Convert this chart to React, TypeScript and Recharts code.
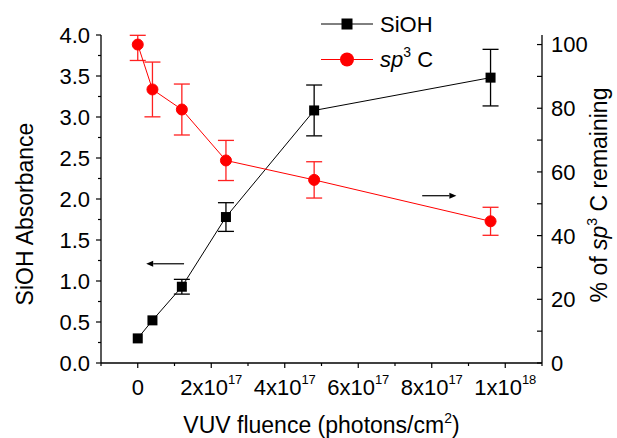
import React from 'react';
import { LineChart, Line, XAxis, YAxis, ErrorBar, ReferenceLine } from 'recharts';

// ---- data (fluence in units of 1e17 photons/cm^2) ----
const fluence = [0, 0.4, 1.2, 2.4, 4.8, 9.6];
const siohAbs = [0.3, 0.52, 0.93, 1.78, 3.08, 3.48];
const siohErr = [0, 0, 0.09, 0.175, 0.31, 0.345];
const sp3Pct = [100, 85.9, 79.6, 63.6, 57.5, 44.5];
const sp3ErrLow = [5, 8.6, 8.0, 6.3, 5.7, 4.4];
const sp3ErrHigh = [2.9, 8.6, 8.0, 6.3, 5.7, 4.4];

// ---- ticks ----
const xTicks = [-1, 0, 1, 2, 3, 4, 5, 6, 7, 8, 9, 10, 11];
const xMajorValues = [0, 2, 4, 6, 8, 10];
const xMajorMantissa = ['0', '2x10', '4x10', '6x10', '8x10', '1x10'];
const xMajorExp = ['', '17', '17', '17', '17', '18'];
const leftTicks = [0, 0.25, 0.5, 0.75, 1, 1.25, 1.5, 1.75, 2, 2.25, 2.5, 2.75, 3, 3.25, 3.5, 3.75, 4];
const leftMajor = [0, 0.5, 1, 1.5, 2, 2.5, 3, 3.5, 4];
const rightTicks = [0, 10, 20, 30, 40, 50, 60, 70, 80, 90, 100];
const rightMajor = [0, 20, 40, 60, 80, 100];

// ---- annotation arrows (start -> head), in data coords of left axis ----
const leftArrow = [{ x: 1.26, y: 1.21 }, { x: 0.23, y: 1.21 }];
const rightArrow = [{ x: 7.74, y: 2.04 }, { x: 8.67, y: 2.04 }];

const data = fluence.map((x, i) => ({
  x,
  sioh: siohAbs[i],
  siohErr: siohErr[i],
  sp3: sp3Pct[i],
  sp3Err: [sp3ErrLow[i], sp3ErrHigh[i]],
}));

const FONT = '"Liberation Sans", Arial, sans-serif';

const XTick = (props: any) => {
  const { x, y, payload } = props;
  const v = payload.value;
  const idx = xMajorValues.indexOf(v);
  const major = idx >= 0;
  return (
    <g>
      <line x1={x} x2={x} y1={y} y2={y + (major ? 5 : 3)} stroke="#000" strokeWidth={1.2} />
      {major && (
        <text x={x} y={y + 32} textAnchor="middle" fontFamily={FONT} fontSize={22} fill="#000">
          {xMajorMantissa[idx]}
          {xMajorExp[idx] && (
            <tspan dy={-11} fontSize={13}>
              {xMajorExp[idx]}
            </tspan>
          )}
        </text>
      )}
    </g>
  );
};

const LeftTick = (props: any) => {
  const { x, y, payload } = props;
  const v = payload.value;
  const axisX = x + 11;
  const major = leftMajor.includes(v);
  return (
    <g>
      <line x1={axisX} x2={axisX - (major ? 5 : 3)} y1={y} y2={y} stroke="#000" strokeWidth={1.2} />
      {major && (
        <text x={x} y={y} dy="0.36em" textAnchor="end" fontFamily={FONT} fontSize={22} fill="#000">
          {v.toFixed(1)}
        </text>
      )}
    </g>
  );
};

const RightTick = (props: any) => {
  const { x, y, payload } = props;
  const v = payload.value;
  const axisX = x;
  const major = rightMajor.includes(v);
  return (
    <g>
      <line x1={axisX} x2={axisX - 5} y1={y} y2={y} stroke="#000" strokeWidth={1.2} />
      {major && (
        <text x={axisX + 9} y={y} dy="0.36em" textAnchor="start" fontFamily={FONT} fontSize={22} fill="#000">
          {String(v)}
        </text>
      )}
    </g>
  );
};

const ArrowShape = (props: any) => {
  const { x1, y1, x2, y2 } = props;
  const dir = x2 > x1 ? 1 : -1;
  const hx = x2;
  const hl = 7;
  const hw = 3;
  return (
    <g>
      <line x1={x1} y1={y1} x2={x2 - dir * hl} y2={y2} stroke="#000" strokeWidth={1.2} />
      <polygon points={`${hx},${y2} ${hx - dir * hl},${y2 - hw} ${hx - dir * hl},${y2 + hw}`} fill="#000" />
    </g>
  );
};

const SquareDot = (props: any) => {
  const { cx, cy, index } = props;
  if (cx == null || cy == null) return <g key={`sq-${index}`} />;
  return <rect key={`sq-${index}`} x={cx - 5} y={cy - 5} width={10} height={10} fill="#000" />;
};

const LeftTitle = (props: any) => {
  const { viewBox } = props;
  const cx = 33;
  const cy = viewBox.y + viewBox.height / 2 + 15;
  return (
    <text x={cx} y={cy} transform={`rotate(-90, ${cx}, ${cy})`} textAnchor="middle" fontFamily={FONT} fontSize={23} fill="#000">
      SiOH Absorbance
    </text>
  );
};

const RightTitle = (props: any) => {
  const { viewBox } = props;
  const cx = viewBox.x + 65;
  const cy = viewBox.y + viewBox.height / 2 - 4;
  return (
    <text x={cx} y={cy} transform={`rotate(-90, ${cx}, ${cy})`} textAnchor="middle" fontFamily={FONT} fontSize={23} fill="#000">
      % of <tspan fontStyle="italic">sp</tspan>
      <tspan dy={-10} fontSize={14}>3</tspan>
      <tspan dy={10}> C remaining</tspan>
    </text>
  );
};

const XTitle = (props: any) => {
  const { viewBox } = props;
  const cx = viewBox.x + viewBox.width / 2;
  const cy = 433;
  return (
    <text x={cx} y={cy} textAnchor="middle" fontFamily={FONT} fontSize={23} fill="#000">
      VUV fluence (photons/cm<tspan dy={-10} fontSize={14}>2</tspan>
      <tspan dy={10}>)</tspan>
    </text>
  );
};

const LegendOverlay = () => (
  <svg width={617} height={438} style={{ position: 'absolute', left: 0, top: 0, pointerEvents: 'none' }}>
    <line x1={321} x2={373} y1={24} y2={24} stroke="#000" strokeWidth={1} />
    <rect x={341.5} y={18.5} width={11} height={11} fill="#000" />
    <text x={380} y={31.5} fontFamily={FONT} fontSize={22} fill="#000">SiOH</text>
    <line x1={321} x2={373} y1={59.5} y2={59.5} stroke="#ff0000" strokeWidth={1} />
    <circle cx={347} cy={59.5} r={7} fill="#ff0000" />
    <text x={380} y={67} fontFamily={FONT} fontSize={22} fill="#000">
      <tspan fontStyle="italic">sp</tspan>
      <tspan dy={-10} fontSize={14}>3</tspan>
      <tspan dy={10}> C</tspan>
    </text>
  </svg>
);

export default function App() {
  return (
    <div style={{ position: 'absolute', left: 0, top: 0, width: 617, height: 438, background: '#fff' }}>
      <LineChart width={617} height={438} data={data} margin={{ top: 35, right: 0, bottom: 0, left: 0 }}>
        <XAxis
          dataKey="x"
          type="number"
          domain={[-1, 11]}
          ticks={xTicks}
          interval={0}
          height={75}
          tickSize={0}
          tickMargin={0}
          tickLine={false}
          tick={<XTick />}
          axisLine={{ stroke: '#000', strokeWidth: 1.3 }}
          allowDataOverflow
          label={<XTitle />}
        />
        <YAxis
          yAxisId="left"
          domain={[0, 4]}
          ticks={leftTicks}
          interval={0}
          width={101}
          tickSize={0}
          tickMargin={11}
          tickLine={false}
          tick={<LeftTick />}
          axisLine={{ stroke: '#000', strokeWidth: 1.3 }}
          allowDataOverflow
          label={<LeftTitle />}
        />
        <YAxis
          yAxisId="right"
          orientation="right"
          domain={[0, 103]}
          ticks={rightTicks}
          interval={0}
          width={75}
          tickSize={0}
          tickMargin={0}
          tickLine={false}
          tick={<RightTick />}
          axisLine={{ stroke: '#000', strokeWidth: 1.3 }}
          allowDataOverflow
          label={<RightTitle />}
        />
        <ReferenceLine yAxisId="left" segment={leftArrow} shape={<ArrowShape />} ifOverflow="visible" />
        <ReferenceLine yAxisId="left" segment={rightArrow} shape={<ArrowShape />} ifOverflow="visible" />
        <Line
          yAxisId="left"
          dataKey="sioh"
          stroke="#000"
          strokeWidth={1}
          isAnimationActive={false}
          dot={SquareDot}
          activeDot={false}
        >
          <ErrorBar dataKey="siohErr" width={8} stroke="#000" strokeWidth={1.3} direction="y" />
        </Line>
        <Line
          yAxisId="right"
          dataKey="sp3"
          stroke="#ff0000"
          strokeWidth={1}
          isAnimationActive={false}
          dot={{ r: 5.5, fill: '#ff0000', stroke: '#ff0000', strokeWidth: 1 }}
          activeDot={false}
        >
          <ErrorBar dataKey="sp3Err" width={8} stroke="#ff2020" strokeWidth={1.3} direction="y" />
        </Line>
      </LineChart>
      <LegendOverlay />
    </div>
  );
}
